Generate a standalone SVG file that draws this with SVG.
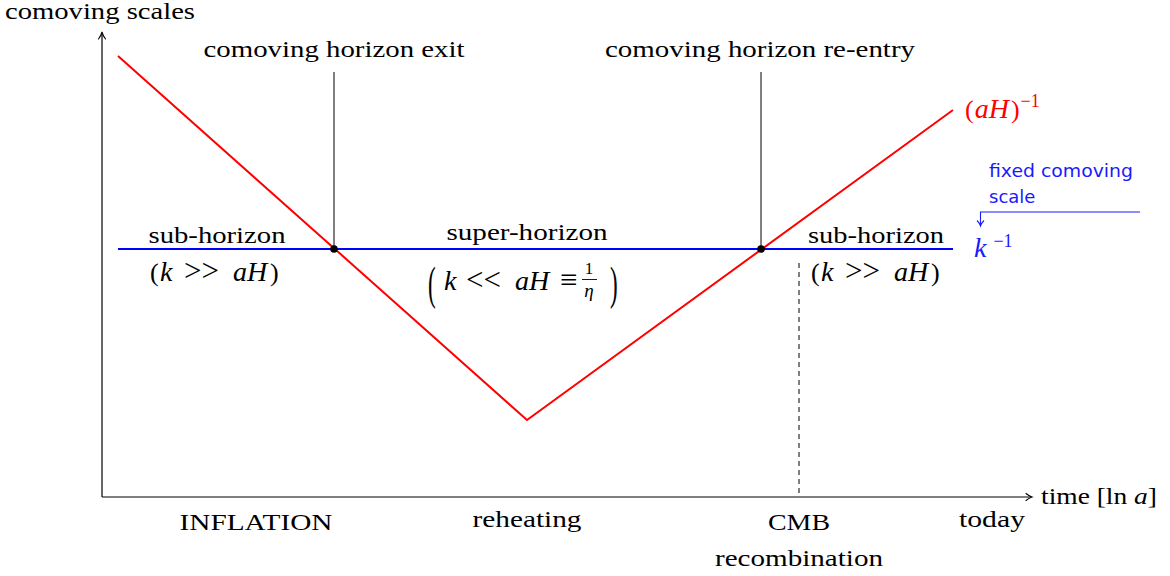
<svg xmlns="http://www.w3.org/2000/svg" width="1170" height="576" viewBox="0 0 1170 576">
<style>
.t{font-family:"Liberation Serif","Times New Roman",serif;font-size:23px;fill:#000}
.mt{font-family:"Liberation Serif","Times New Roman",serif;font-size:26px;fill:#000}
.m{font-style:italic;font-size:28px}
.rel{font-size:31px}
.sans{font-family:"DejaVu Sans","Liberation Sans",sans-serif;font-size:18px;fill:#1a1aff}
.ax{stroke:#000;stroke-width:1.2;fill:none}
.ah{stroke:#000;stroke-width:1.1;fill:none;stroke-linecap:round}
</style>
<rect width="1170" height="576" fill="#fff"/>
<g id="axes">
<line class="ax" x1="102" y1="497" x2="102" y2="33"/>
<path class="ah" d="M98.5,39 Q101,36 102,32 Q103,36 105.5,39"/>
<line class="ax" x1="102" y1="497" x2="1031" y2="497"/>
<path class="ah" d="M1026,493.5 Q1029,496 1032,497 Q1029,498 1026,500.5"/>
<text class="t" x="5" y="19" textLength="190" lengthAdjust="spacingAndGlyphs">comoving scales</text>
<text class="t" x="1041" y="504" textLength="116" lengthAdjust="spacingAndGlyphs">time [ln <tspan style="font-style:italic">a</tspan>]</text>
</g>
<g id="connectors">
<polyline points="118,56 527,420 953,110" fill="none" stroke="#ff0000" stroke-width="2"/>
<line x1="118" y1="249" x2="953" y2="249" stroke="#0000ff" stroke-width="2.2"/>
<line x1="334" y1="72" x2="334" y2="249" stroke="#000" stroke-width="1"/>
<line x1="761" y1="72" x2="761" y2="249" stroke="#000" stroke-width="1"/>
<line x1="799" y1="263" x2="799" y2="497" stroke="#000" stroke-width="1" stroke-dasharray="5,4"/>
<polyline points="1140,212 980.5,212 980.5,225" fill="none" stroke="#1a1aff" stroke-width="1.1"/>
<path d="M977,220.5 Q979.5,223 980.5,226 Q981.5,223 984,220.5" fill="none" stroke="#1a1aff" stroke-width="1.1"/>
</g>
<g id="exit">
<circle cx="334" cy="249" r="3.8" fill="#000"/>
<text class="t" x="334" y="57" text-anchor="middle" textLength="261" lengthAdjust="spacingAndGlyphs">comoving horizon exit</text>
</g>
<g id="reentry">
<circle cx="761" cy="249" r="3.8" fill="#000"/>
<text class="t" x="760" y="57" text-anchor="middle" textLength="310" lengthAdjust="spacingAndGlyphs">comoving horizon re-entry</text>
</g>
<g id="aH-label">
<text class="mt" x="965" y="118" style="fill:#ff0000;font-size:26px">(<tspan class="m" dx="1">aH</tspan><tspan dx="2">)</tspan><tspan style="font-size:18px" dx="1" dy="-11">−1</tspan></text>
</g>
<g id="k-label">
<text class="sans" x="989" y="177" textLength="144" lengthAdjust="spacingAndGlyphs">fixed comoving</text>
<text class="sans" x="989" y="203">scale</text>
<text class="mt" x="974" y="257" style="fill:#1a1aff;font-size:26px"><tspan class="m">k</tspan><tspan style="font-size:18px" dx="7" dy="-10">−1</tspan></text>
</g>
<g id="sub-left">
<text class="t" x="217" y="243" text-anchor="middle" textLength="137" lengthAdjust="spacingAndGlyphs">sub-horizon</text>
<text class="mt" y="281"><tspan x="150">(</tspan><tspan class="m" x="160">k</tspan><tspan class="rel" x="184">&gt;&gt;</tspan><tspan class="m" x="233">aH</tspan><tspan x="270">)</tspan></text>
</g>
<g id="super">
<text class="t" x="527" y="240" text-anchor="middle" textLength="161" lengthAdjust="spacingAndGlyphs">super-horizon</text>
<text class="t" transform="translate(428,299) scale(1,2.05)" x="0" y="0">(</text>
<text class="mt" y="290"><tspan class="m" x="444">k</tspan><tspan class="rel" x="466">&lt;&lt;</tspan><tspan class="m" x="515">aH</tspan><tspan class="rel" x="560">≡</tspan></text>
<text class="t" x="589" y="274" text-anchor="middle" style="font-size:17px">1</text>
<line x1="582" y1="279.5" x2="597" y2="279.5" stroke="#000" stroke-width="0.9"/>
<text class="t" x="589" y="297" text-anchor="middle" style="font-size:19px;font-style:italic">η</text>
<text class="t" transform="translate(610,299) scale(1,2.05)" x="0" y="0">)</text>
</g>
<g id="sub-right">
<text class="t" x="876" y="243" text-anchor="middle" textLength="136" lengthAdjust="spacingAndGlyphs">sub-horizon</text>
<text class="mt" y="281"><tspan x="811">(</tspan><tspan class="m" x="821">k</tspan><tspan class="rel" x="845">&gt;&gt;</tspan><tspan class="m" x="894">aH</tspan><tspan x="931">)</tspan></text>
</g>
<g id="epochs">
<text class="t" x="256" y="530" text-anchor="middle" textLength="153" lengthAdjust="spacingAndGlyphs">INFLATION</text>
<text class="t" x="527" y="527" text-anchor="middle" textLength="109" lengthAdjust="spacingAndGlyphs">reheating</text>
<text class="t" x="799" y="530" text-anchor="middle" textLength="62" lengthAdjust="spacingAndGlyphs">CMB</text>
<text class="t" x="992" y="527" text-anchor="middle" textLength="66" lengthAdjust="spacingAndGlyphs">today</text>
<text class="t" x="799" y="566" text-anchor="middle" textLength="168" lengthAdjust="spacingAndGlyphs">recombination</text>
</g>
</svg>
